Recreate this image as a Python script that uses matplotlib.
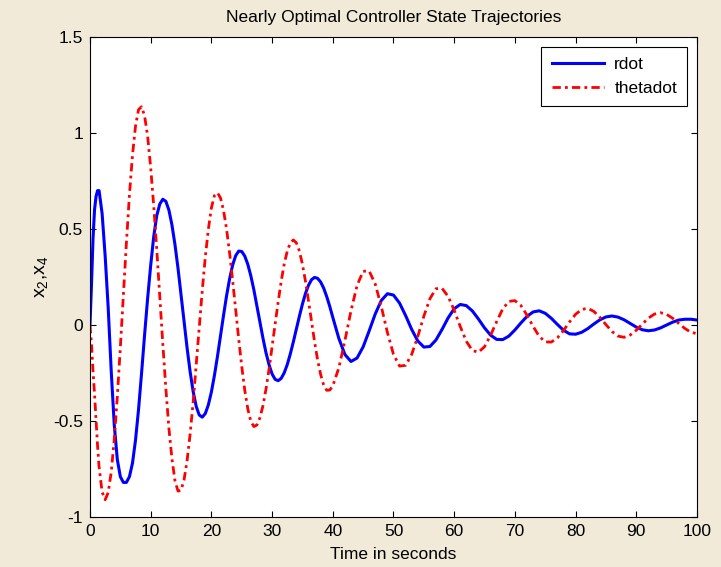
import numpy as np
import matplotlib
matplotlib.use("Agg")
import matplotlib.pyplot as plt

plt.rcParams['font.family'] = ['Liberation Sans', 'DejaVu Sans']
plt.rcParams['mathtext.fontset'] = 'custom'
plt.rcParams['mathtext.rm'] = 'Liberation Sans'
plt.rcParams['mathtext.it'] = 'Liberation Sans'
plt.rcParams['axes.unicode_minus'] = False

# time grid (s): fine steps at the start, then 0.5 s, then 1 s
t = np.concatenate([np.arange(0, 1.75, 0.25), np.arange(2, 40.5, 0.5), np.arange(41, 101, 1.0)])

# rdot (x2)
rdot = [0.00, 0.21, 0.45, 0.60, 0.67, 0.70, 0.70,
        0.58, 0.36, 0.09, -0.24, -0.52, -0.70, -0.79, -0.82, -0.82, -0.79,
        -0.72, -0.60, -0.44, -0.25, -0.05, 0.14, 0.31, 0.46, 0.57, 0.63,
        0.655, 0.644, 0.599, 0.522, 0.419, 0.296, 0.158, 0.017, -0.120, -0.244,
        -0.347, -0.424, -0.469, -0.480, -0.461, -0.416, -0.349, -0.263, -0.164, -0.057,
        0.050, 0.152, 0.240, 0.312, 0.361, 0.385, 0.383, 0.359, 0.316, 0.256,
        0.183, 0.100, 0.014, -0.069, -0.145, -0.207, -0.255, -0.283, -0.290, -0.278,
        -0.249, -0.206, -0.151, -0.088, -0.021, 0.046, 0.109, 0.164, 0.207, 0.236,
        0.248, 0.243, 0.224, 0.192, 0.148, 0.097, 0.040,
        -0.070, -0.154, -0.190, -0.172, -0.114, -0.030, 0.058, 0.128, 0.163, 0.156,
        0.114, 0.049, -0.023, -0.083, -0.115, -0.112, -0.078, -0.023, 0.037, 0.085,
        0.107, 0.101, 0.073, 0.031, -0.015, -0.053, -0.075, -0.076, -0.058, -0.026,
        0.011, 0.045, 0.068, 0.074, 0.061, 0.035, 0.003, -0.027, -0.046, -0.048,
        -0.038, -0.019, 0.005, 0.027, 0.042, 0.047, 0.041, 0.027, 0.008, -0.011,
        -0.025, -0.030, -0.026, -0.015, 0.000, 0.015, 0.026, 0.030, 0.030, 0.026]

# thetadot (x4)
thetadot = [0.00, -0.10, -0.24, -0.36, -0.50, -0.63, -0.74,
            -0.87, -0.91, -0.873, -0.766, -0.596, -0.375, -0.118, 0.157, 0.428, 0.678,
            0.884, 1.036, 1.122, 1.137, 1.089, 0.982, 0.820, 0.621, 0.395, 0.147,
            -0.099, -0.331, -0.537, -0.696, -0.811, -0.865, -0.861, -0.806, -0.706, -0.567,
            -0.400, -0.208, -0.011, 0.181, 0.355, 0.498, 0.610, 0.674, 0.689, 0.662,
            0.597, 0.500, 0.375, 0.233, 0.080, -0.073, -0.215, -0.340, -0.437, -0.502,
            -0.529, -0.521, -0.483, -0.420, -0.333, -0.230, -0.115, 0.004, 0.120, 0.227,
            0.318, 0.385, 0.428, 0.443, 0.428, 0.385, 0.316, 0.228, 0.125, 0.018,
            -0.088, -0.182, -0.258, -0.313, -0.340, -0.339, -0.317,
            -0.223, -0.081, 0.074, 0.206, 0.280, 0.281, 0.213, 0.095, -0.039, -0.153,
            -0.214, -0.210, -0.153, -0.060, 0.046, 0.137, 0.189, 0.191, 0.149, 0.077,
            -0.008, -0.085, -0.133, -0.142, -0.113, -0.053, 0.018, 0.084, 0.123, 0.127,
            0.101, 0.051, -0.007, -0.059, -0.088, -0.089, -0.067, -0.029, 0.016, 0.056,
            0.081, 0.087, 0.071, 0.040, 0.002, -0.034, -0.058, -0.064, -0.052, -0.027,
            0.005, 0.036, 0.057, 0.064, 0.055, 0.035, 0.008, -0.018, -0.038, -0.045]

xticks = np.arange(0, 101, 10)
yticks = [-1, -0.5, 0, 0.5, 1, 1.5]
ytick_labels = ['-1', '-0.5', '0', '0.5', '1', '1.5']

fig = plt.figure(figsize=(7.21, 5.67), dpi=100, facecolor='#F1EAD9')
ax = fig.add_axes([0.1248, 0.0882, 0.8419, 0.8465])
ax.set_facecolor('white')

ax.plot(t, rdot, color='#0000FF', lw=2.2, label='rdot')
ax.plot(t, thetadot, color='#FF0000', lw=2.0, linestyle=(0, (3, 1.5, 1, 1.5)), label='thetadot')

ax.set_xlim(0, 100)
ax.set_ylim(-1, 1.5)
ax.set_xticks(xticks)
ax.set_yticks(yticks)
ax.set_yticklabels(ytick_labels)
ax.tick_params(direction='in', length=4, width=0.8, labelsize=12.5, top=True, right=True, pad=5)
for s in ax.spines.values():
    s.set_linewidth(0.8)

ax.set_title('Nearly Optimal Controller State Trajectories', fontsize=12.5, pad=11)
ax.set_xlabel('Time in seconds', fontsize=12.5, labelpad=6)
ax.set_ylabel(r'x$_2$,x$_4$', fontsize=14, labelpad=2)

leg = ax.legend(loc='upper right', fontsize=12.5, fancybox=False, framealpha=1,
                edgecolor='black', handlelength=3.0, borderaxespad=0.55,
                borderpad=0.6, labelspacing=0.5, handletextpad=0.6)
leg.get_frame().set_linewidth(0.8)

fig.savefig('out.png', dpi=100, facecolor=fig.get_facecolor())
